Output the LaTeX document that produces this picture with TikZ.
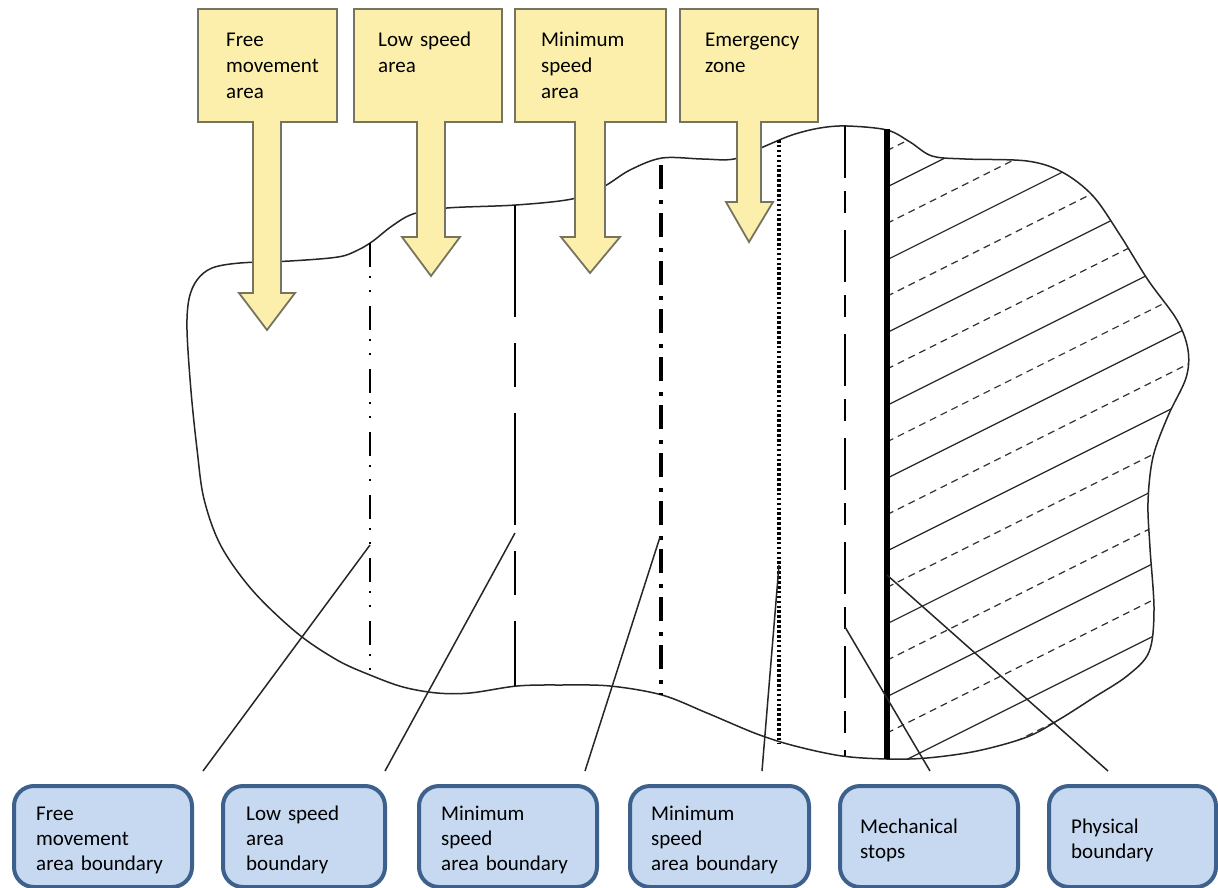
\documentclass[tikz,border=0pt]{standalone}
\usepackage{fontspec}
\setmainfont{Carlito}
\definecolor{zonefill}{RGB}{252,239,172}
\definecolor{zonedraw}{RGB}{118,116,96}
\definecolor{tagfill}{RGB}{198,217,240}
\definecolor{tagdraw}{RGB}{61,96,140}
% outline of the working space (pixel-like units, y grows downwards)
\newcommand\blobshape{plot[smooth cycle, tension=0.55] coordinates {
 (187,330) (189,299) (197,280) (212,268) (240,263) (290,261) (338,257) (358,250)
 (373,241) (392,226) (413,214) (447,208) (516,205) (572,199) (603,187) (630,170)
 (662,158) (702,159) (734,159) (763,147) (792,135) (820,128) (847,126) (887,130)
 (910,142) (932,156) (965,159) (1027,161) (1062,172) (1093,196) (1120,235) (1148,280)
 (1177,320) (1188,350) (1186,378) (1168,416) (1153,457) (1148,502) (1150,548) (1154,610)
 (1149,652) (1127,676) (1093,698) (1060,719) (1027,737) (977,751) (927,758) (887,759)
 (842,756) (795,746) (757,734) (707,713) (662,695) (610,686) (560,685) (517,686)
 (470,693) (437,693) (403,687) (370,675) (337,660) (297,633) (253,591) (221,546)
 (204,499) (197,449) (191,391)}}
\begin{document}
\begin{tikzpicture}[x=1pt,y=-1pt,
  blobline/.style={line width=1.5pt, black!85},
  hatchsolid/.style={line width=1.2pt, black!85},
  hatchdash/.style={line width=1.2pt, black!80, dash pattern=on 7pt off 5pt},
  freeline/.style={line width=2.4pt, dash pattern=on 24pt off 9pt on 2pt off 12pt on 2pt off 14pt},
  lowline/.style={line width=2.4pt, dash pattern=on 112pt off 26pt on 44pt off 26pt},
  minline/.style={line width=4.2pt, dash pattern=on 24pt off 11pt on 4pt off 9pt, dash phase=41pt},
  dotline/.style={line width=3.2pt, dash pattern=on 2.6pt off 2.3pt},
  stopline/.style={line width=2.6pt, dash pattern=on 52pt off 13pt on 22pt off 17pt},
  wallline/.style={line width=6pt},
  leader/.style={line width=1.5pt, black!85},
  zonearrow/.style={fill=zonefill, draw=zonedraw, line width=1.8pt},
  zonetext/.style={anchor=base west, inner sep=0pt, text width=150pt, align=left,
    font=\fontsize{21pt}{26pt}\selectfont},
  tagbox/.style={draw=tagdraw, fill=tagfill, line width=4pt, rounded corners=20pt,
    anchor=north west, minimum height=101pt, inner sep=0pt},
  tagtext/.style={anchor=base west, inner sep=0pt, text width=170pt, align=left,
    font=\fontsize{21pt}{25pt}\selectfont}
]
\useasboundingbox (0,0) rectangle (1218,888);
\fill[white] (0,0) rectangle (1218,888);

% hatching of the space beyond the physical boundary
\begin{scope}
  \clip (887,0) rectangle (1218,888);
  \clip \blobshape;
  \foreach \k in {-1,...,9} {
    \draw[hatchsolid] (887,{187+72.8*\k}) -- (1200,{187+72.8*\k-156.5});
  }
  \foreach \k in {-2,...,8} {
    \draw[hatchdash] (887,{223.4+72.8*\k}) -- (1200,{223.4+72.8*\k-156.5});
  }
\end{scope}

% outline of the space
\draw[blobline] \blobshape;

% boundary lines
\coordinate (f0) at (370,243);  \coordinate (f1) at (370,674);
\coordinate (l0) at (515,205);  \coordinate (l1) at (515,686);
\coordinate (m0) at (661,158);  \coordinate (m1) at (661,695);
\coordinate (d0) at (779,140);  \coordinate (d1) at (779,743);
\coordinate (s0) at (845,126);  \coordinate (s1) at (845,756);
\coordinate (w0) at (887,129);  \coordinate (w1) at (887,759);
\draw[freeline] (f0) -- (f1);
\draw[lowline] (l0) -- (l1);
\draw[minline] (m0) -- (m1);
\draw[dotline] (d0) -- (d1);
\draw[stopline] (s0) -- (s1);
\draw[wallline] (w0) -- (w1);

% leader lines from the boundaries towards the labels
\coordinate (c1) at (370,545);  \coordinate (e1) at (203,771);
\coordinate (c2) at (515,533);  \coordinate (e2) at (385,771);
\coordinate (c3) at (660,537);  \coordinate (e3) at (585,771);
\coordinate (c4) at (779,565);  \coordinate (e4) at (762,771);
\coordinate (c5) at (845,627);  \coordinate (e5) at (930,771);
\coordinate (c6) at (887,575);  \coordinate (e6) at (1108,771);
\foreach \i in {1,...,6} { \draw[leader] (c\i) -- (e\i); }

% zone callouts with their arrows
\draw[zonearrow] (198,9) -- (337,9) -- (337,122) -- (281,122) -- (281,293) -- (295,293)
  -- (267,330) -- (239,293) -- (253,293) -- (253,122) -- (198,122) -- cycle;
\draw[zonearrow] (354,9) -- (502,9) -- (502,122) -- (445,122) -- (445,237) -- (460,237)
  -- (431,276) -- (402,237) -- (417,237) -- (417,122) -- (354,122) -- cycle;
\draw[zonearrow] (515,9) -- (666,9) -- (666,122) -- (605,122) -- (605,237) -- (620,237)
  -- (590,273) -- (561,237) -- (575,237) -- (575,122) -- (515,122) -- cycle;
\draw[zonearrow] (680,9) -- (818,9) -- (818,122) -- (761,122) -- (761,202) -- (773,202)
  -- (749,242) -- (726,202) -- (737,202) -- (737,122) -- (680,122) -- cycle;
\node[zonetext] (z1) at (226,47) {Free\\movement\\area};
\node[zonetext] (z2) at (378,47) {Low speed\\area};
\node[zonetext] (z3) at (541,47) {Minimum\\speed\\area};
\node[zonetext] (z4) at (705,47) {Emergency\\zone};

% label boxes
\node[tagbox, minimum width=178pt] (b1) at (12,784) {};
\node[tagbox, minimum width=162pt] (b2) at (221,784) {};
\node[tagbox, minimum width=178pt] (b3) at (417,784) {};
\node[tagbox, minimum width=179pt] (b4) at (628,784) {};
\node[tagbox, minimum width=178pt] (b5) at (838,784) {};
\node[tagbox, minimum width=167pt] (b6) at (1047,784) {};
\node[tagtext] (t1) at (36,820) {Free\\movement\\area boundary};
\node[tagtext] (t2) at (246,820) {Low speed\\area\\boundary};
\node[tagtext] (t3) at (441,820) {Minimum\\speed\\area boundary};
\node[tagtext] (t4) at (651,820) {Minimum\\speed\\area boundary};
\node[tagtext] (t5) at (860,833) {Mechanical\\stops};
\node[tagtext] (t6) at (1071,833) {Physical\\boundary};
\end{tikzpicture}
\end{document}
